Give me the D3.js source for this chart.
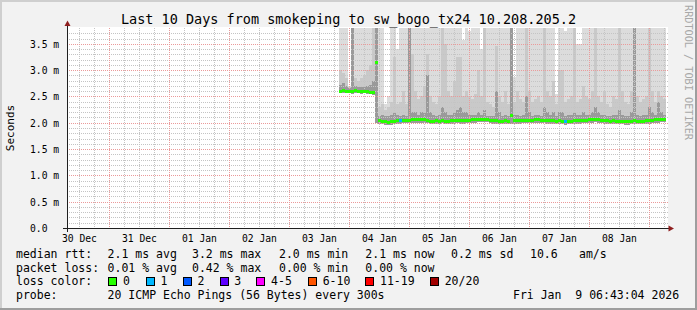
<!DOCTYPE html>
<html><head><meta charset="utf-8">
<script src="https://cdn.jsdelivr.net/npm/d3@7"></script>
<style>html,body{margin:0;padding:0;background:#f2f2f2;}svg{display:block;}</style>
</head><body><svg id="c" width="697" height="310"></svg>
<script>
// ---------- data ----------
const titleText = "Last 10 Days from smokeping to sw_bogo_tx24 10.208.205.2";
const yAxisTitle = "Seconds";
const watermark = "RRDTOOL / TOBI OETIKER";
const yTicks = [0, 0.5, 1, 1.5, 2, 2.5, 3, 3.5];
const yTickLabels = ["0.0", "0.5 m", "1.0 m", "1.5 m", "2.0 m", "2.5 m", "3.0 m", "3.5 m"];
const dayLabels = ["30 Dec", "31 Dec", "01 Jan", "02 Jan", "03 Jan", "04 Jan", "05 Jan", "06 Jan", "07 Jan", "08 Jan"];
const rangeStart = Date.UTC(2025, 11, 30, 6, 43, 4);
const rangeEnd = Date.UTC(2026, 0, 9, 6, 43, 4);
const dataStart = Date.UTC(2026, 0, 3, 19, 50, 0);
const stepMinutes = 72;

// median rtt (ms) per step
const median = [
 2.61,2.62,2.61,2.61,2.60,2.62,2.61,2.60,2.61,2.60,2.59,2.58,3.15,
 2.05,2.04,2.03,2.02,2.03,2.04,2.05,2.05,2.06,2.06,2.06,2.07,2.07,2.07,2.07,2.07,2.06,2.04,2.04,2.05,2.04,2.06,2.04,2.04,2.05,2.05,
 2.06,2.05,2.05,2.06,2.06,2.07,2.07,2.08,2.08,2.08,2.08,2.06,2.05,2.05,2.04,2.04,2.05,2.04,2.15,2.05,2.05,2.05,2.06,2.06,2.06,2.06,
 2.07,2.07,2.06,2.06,2.05,2.05,2.05,2.04,2.05,2.04,2.03,2.04,2.04,2.05,2.05,2.05,2.06,2.06,2.07,2.07,2.08,2.07,2.06,2.05,2.05,2.04,
 2.05,2.04,2.04,2.04,2.03,2.03,2.04,2.05,2.04,2.04,2.04,2.05,2.05,2.06,2.07,2.07,2.08,2.08];
// highest ping (ms); 4 = beyond the top of the graph
const smokeTop = [
 4,4,4,2.7,4,4,4,4,4,4,4,4,4,
 4,4,2.35,2.5,4,4,3.4,4,4,4,4,4,4,4,4,4,4,4,4,4,4,4,4,4,4,4,
 4,4,3.57,4,3.75,4,4,4,3.4,4,4,4,4,4,4,4,4,4,4,2.86,4,4,4,4,4,4,
 4,4,4,4,4,4,4,2.55,4,4,3.75,4,4,4,3.5,3.5,4,4,4,4,4,4,4,4,4,4,
 4,4,4,4,4,4,4,4,4,4,4,4,4,4,4,4,4,4];
// upper ping level of the middle pings (ms)
const smokeUpper = [
 3.0,2.95,2.85,2.68,3.8,2.85,2.8,2.85,2.9,3.0,3.1,3.8,3.8,
 2.3,2.35,2.25,2.3,2.4,3.25,2.35,2.4,2.6,2.35,3.8,3.3,2.6,2.45,2.5,2.7,3.3,2.5,2.4,2.35,2.5,3.8,3.5,2.6,2.5,2.8,
 3.25,3.25,2.5,2.6,2.5,2.45,2.55,3.0,2.5,3.8,2.4,2.35,2.3,3.45,2.5,2.4,2.6,2.35,3.8,2.4,2.6,2.45,2.4,3.8,2.6,2.4,
 2.45,2.5,2.4,3.8,2.6,2.5,2.8,2.35,3.0,3.0,2.4,2.45,2.5,3.8,2.4,2.45,2.7,2.5,2.45,2.6,3.8,2.5,2.4,2.6,2.35,2.3,
 2.5,2.45,3.8,2.6,2.4,2.35,2.6,3.8,2.5,2.4,2.45,2.5,3.8,2.6,2.4,2.6,2.5,2.45];
// upper ping level of the innermost pings (ms)
const smokeDark = [
 2.72,2.75,2.7,2.66,3.8,2.7,2.68,2.68,2.7,2.7,2.72,2.8,3.8,
 2.12,2.15,2.12,2.12,2.15,2.2,2.15,2.12,2.15,2.12,3.8,2.2,2.2,2.15,2.2,2.2,2.9,2.2,2.15,2.12,2.15,2.3,2.2,2.15,2.15,2.2,
 2.25,2.3,2.2,2.2,2.15,2.15,2.15,2.2,2.15,2.25,2.12,2.12,2.12,2.6,2.2,2.12,2.15,2.12,3.8,2.15,2.15,2.12,2.15,2.5,2.2,2.12,
 2.15,2.15,2.12,2.3,2.2,2.15,2.2,2.12,2.2,2.2,2.12,2.15,2.15,2.2,2.15,2.15,2.2,2.15,2.15,2.2,2.3,2.2,2.15,2.15,2.12,2.12,
 2.15,2.15,2.25,2.15,2.12,2.12,2.2,3.8,2.15,2.12,2.15,2.15,2.3,2.2,2.15,2.4,2.2,2.15];
// lowest ping (ms)
const smokeLow = [
 2.56,2.57,2.56,2.56,2.55,2.56,2.56,2.55,2.56,2.55,2.54,2.53,2.0,
 1.98,1.97,1.96,1.95,1.96,1.97,1.98,1.98,1.99,1.99,1.99,2.0,2.0,2.0,2.0,2.0,1.99,1.97,1.97,1.98,1.97,1.99,1.97,1.97,1.98,1.98,
 1.99,1.98,1.98,1.99,1.99,2.0,2.0,2.01,2.01,2.01,2.01,1.99,1.98,1.98,1.97,1.97,1.98,1.97,1.98,1.98,1.98,1.98,1.99,1.99,1.99,1.99,
 2.0,2.0,1.99,1.99,1.98,1.98,1.98,1.97,1.98,1.97,1.96,1.97,1.97,1.98,1.98,1.98,1.99,1.99,2.0,2.0,2.01,2.0,1.99,1.98,1.98,1.97,
 1.98,1.97,1.97,1.97,1.96,1.96,1.97,1.98,1.97,1.97,1.97,1.98,1.98,1.99,2.0,2.0,2.01,2.01];
// lost pings per step
const lossCount = [
 0,0,0,0,0,0,0,0,0,0,0,0,0,
 0,0,0,0,0,0,0,1,0,0,0,0,0,0,0,0,0,0,0,0,0,0,0,0,0,0,
 0,0,0,0,0,0,0,0,0,0,0,0,0,0,0,0,0,0,0,0,0,0,0,0,0,0,
 0,0,0,0,0,0,0,0,0,0,1,0,0,0,0,0,0,0,0,0,0,0,0,0,0,0,
 0,0,0,0,0,0,0,0,0,0,0,0,0,0,0,0,0,0];

const rttStats = ["2.1 ms avg", "3.2 ms max", "2.0 ms min", "2.1 ms now", "0.2 ms sd"];
const rttExtra = ["10.6", "am/s"];
const lossStats = ["0.01 % avg", "0.42 % max", "0.00 % min", "0.00 % now"];
const lossLabels = ["0", "1", "2", "3", "4-5", "6-10", "11-19", "20/20"];
const lossColors = ["#26ff00", "#00b8ff", "#0059ff", "#5e00ff", "#ff00ff", "#ff5500", "#ff0000", "#a10000"];
const lossLimits = [0, 1, 2, 3, 5, 10, 19, 20];
const probeText = "20 ICMP Echo Pings (56 Bytes) every 300s";
const dateText = "Fri Jan  9 06:43:04 2026";

// ---------- drawing ----------
const W = 697, H = 310;
const svg = d3.select("#c");
const mono = "'DejaVu Sans Mono', monospace";
const keep = s => s.replace(/ /g, "\u00a0");

svg.append("rect").attr("width", W).attr("height", H).attr("fill", "#f2f2f2");
svg.append("path").attr("d", `M0,0H${W}V2H2V${H}H0Z`).attr("fill", "#cfcfcf");
svg.append("path").attr("d", `M${W},${H}H0V${H-2}H${W-2}V0H${W}Z`).attr("fill", "#9e9e9e");

const x = d3.scaleUtc().domain([rangeStart, rangeEnd]).range([66.2, 666.2]);
const y = d3.scaleLinear().domain([0, 3.8]).range([228, 28]);
const PL = 67, PR = 667, PT = 27, PB = 228;

svg.append("rect").attr("x", PL).attr("y", PT).attr("width", PR - PL + 1).attr("height", PB - PT + 1).attr("fill", "#ffffff");

svg.append("defs").append("clipPath").attr("id", "plot").append("rect")
  .attr("x", PL).attr("y", 28).attr("width", PR - PL).attr("height", PB - 28);

const plot = svg.append("g").attr("clip-path", "url(#plot)");
const stepMs = stepMinutes * 60000;
const bins = median.map((m, i) => ({
  t0: dataStart + i * stepMs, t1: dataStart + (i + 1) * stepMs,
  med: m, top: Math.min(smokeTop[i], 3.8), up: Math.min(smokeUpper[i], 3.8),
  dk: Math.min(smokeDark[i], 3.8), low: smokeLow[i], loss: lossCount[i] || 0
}));
const bx0 = d => Math.round(x(d.t0)), bx1 = d => Math.round(x(d.t1));

function layer(key, color) {
  plot.append("g").selectAll("rect").data(bins).join("rect")
    .attr("x", bx0).attr("width", d => bx1(d) - bx0(d))
    .attr("y", d => Math.round(y(d[key])))
    .attr("height", d => Math.max(0, Math.round(y(d.low)) - Math.round(y(d[key]))))
    .attr("fill", color).attr("shape-rendering", "crispEdges");
}
layer("top", "#dcdcdc");
layer("up", "#c9c9c9");
layer("dk", "#9a9a9a");

// grid
const grid = svg.append("g").attr("shape-rendering", "crispEdges").attr("stroke-width", 1);
const minorY = d3.range(1, 38).map(v => v / 10).filter(v => Math.round(v * 10) % 5 !== 0);
grid.selectAll(".hmin").data(minorY).join("line")
  .attr("x1", PL).attr("x2", PR + 1).attr("y1", d => Math.round(y(d)) + 0.5).attr("y2", d => Math.round(y(d)) + 0.5)
  .attr("stroke", "#c4c4c4").attr("stroke-dasharray", "1,1");
const minorX = d3.utcHour.every(6).range(new Date(rangeStart), new Date(rangeEnd)).filter(d => d.getUTCHours() !== 0);
grid.selectAll(".vmin").data(minorX).join("line")
  .attr("x1", d => Math.round(x(d)) + 0.5).attr("x2", d => Math.round(x(d)) + 0.5).attr("y1", 28).attr("y2", PB)
  .attr("stroke", "#c4c4c4").attr("stroke-dasharray", "1,1");
grid.selectAll(".hmaj").data(yTicks.slice(1)).join("line")
  .attr("x1", PL).attr("x2", PR + 1).attr("y1", d => Math.round(y(d)) + 0.5).attr("y2", d => Math.round(y(d)) + 0.5)
  .attr("stroke", "#eb9a9a").attr("stroke-dasharray", "1,1");
const majorX = d3.utcDay.range(new Date(rangeStart), new Date(rangeEnd));
grid.selectAll(".vmaj").data(majorX).join("line")
  .attr("x1", d => Math.round(x(d)) + 0.5).attr("x2", d => Math.round(x(d)) + 0.5).attr("y1", 28).attr("y2", PB)
  .attr("stroke", "#eb9a9a").attr("stroke-dasharray", "1,1");

// median markers coloured by loss
function lossColor(n) {
  for (let i = 0; i < lossLimits.length; i++) if (n <= lossLimits[i]) return lossColors[i];
  return lossColors[lossColors.length - 1];
}
svg.append("g").attr("clip-path", "url(#plot)").selectAll("rect").data(bins).join("rect")
  .attr("x", bx0).attr("width", d => bx1(d) - bx0(d))
  .attr("y", d => Math.round(y(d.med)) - 1).attr("height", 3)
  .attr("fill", d => lossColor(d.loss)).attr("shape-rendering", "crispEdges");

// axes
const axes = svg.append("g").attr("shape-rendering", "crispEdges");
axes.append("line").attr("x1", 63).attr("x2", 670).attr("y1", PB + 0.5).attr("y2", PB + 0.5).attr("stroke", "#1f1f1f");
axes.append("line").attr("x1", PL + 0.5).attr("x2", PL + 0.5).attr("y1", 232).attr("y2", 24).attr("stroke", "#1f1f1f");
svg.append("path").attr("d", `M${PL + 0.5},20.5L${PL + 3.5},26L${PL - 2.5},26Z`).attr("fill", "#8f1f1f");
svg.append("path").attr("d", `M674,${PB + 0.5}L668.5,${PB - 2.5}L668.5,${PB + 3.5}Z`).attr("fill", "#8f1f1f");

// title and labels
svg.append("text").attr("x", 348.5).attr("y", 24).attr("text-anchor", "middle")
  .attr("font-family", mono).attr("font-size", "13.5px").attr("fill", "#000").text(titleText);

svg.append("g").selectAll("text").data(yTicks).join("text")
  .attr("x", 30).attr("y", d => Math.round(y(d)) + 4)
  .attr("font-family", mono).attr("font-size", "9.7px").attr("fill", "#000")
  .text((d, i) => yTickLabels[i]);

const noon = d3.utcDay.range(new Date(rangeStart - 86400000), new Date(rangeEnd))
  .map(d => new Date(+d + 43200000)).filter(d => +d >= rangeStart && +d <= rangeEnd);
svg.append("g").selectAll("text").data(noon).join("text")
  .attr("x", d => x(d)).attr("y", 241.5).attr("text-anchor", "middle")
  .attr("font-family", mono).attr("font-size", "9.7px").attr("fill", "#000")
  .text((d, i) => dayLabels[i]);

svg.append("text").attr("transform", "translate(14,128) rotate(-90)").attr("text-anchor", "middle")
  .attr("font-family", mono).attr("font-size", "11px").attr("fill", "#000").text(yAxisTitle);

svg.append("text").attr("transform", "translate(685,5) rotate(90)").attr("text-anchor", "start")
  .attr("font-family", mono).attr("font-size", "10.2px").attr("fill", "#a8a8a8").text(watermark);

// legend
const lg = svg.append("g").attr("font-family", mono).attr("font-size", "11.5px").attr("fill", "#000");
const statX = [107.6, 192, 279, 365.3, 451];
lg.append("text").attr("x", 16).attr("y", 258).text("median rtt:");
rttStats.forEach((s, i) => lg.append("text").attr("x", statX[i]).attr("y", 258).text(s));
lg.append("text").attr("x", 530).attr("y", 258).text(rttExtra[0]);
lg.append("text").attr("x", 579).attr("y", 258).text(rttExtra[1]);
lg.append("text").attr("x", 16).attr("y", 271.5).text("packet loss:");
lossStats.forEach((s, i) => lg.append("text").attr("x", statX[i]).attr("y", 271.5).text(s));
lg.append("text").attr("x", 16).attr("y", 285).text("loss color:");
const boxX = [108.4, 145.8, 182.7, 219.6, 256.4, 308, 365.3, 430];
lossLabels.forEach((l, i) => {
  svg.append("rect").attr("x", Math.round(boxX[i]) + 0.5).attr("y", 277.5).attr("width", 8).attr("height", 8)
    .attr("fill", lossColors[i]).attr("stroke", "#000").attr("stroke-width", 1);
  lg.append("text").attr("x", boxX[i] + 14.7).attr("y", 285).text(l);
});
lg.append("text").attr("x", 16).attr("y", 298.5).text("probe:");
lg.append("text").attr("x", 107.6).attr("y", 298.5).text(probeText);
lg.append("text").attr("x", 513).attr("y", 298.5).text(keep(dateText));
</script></body></html>
